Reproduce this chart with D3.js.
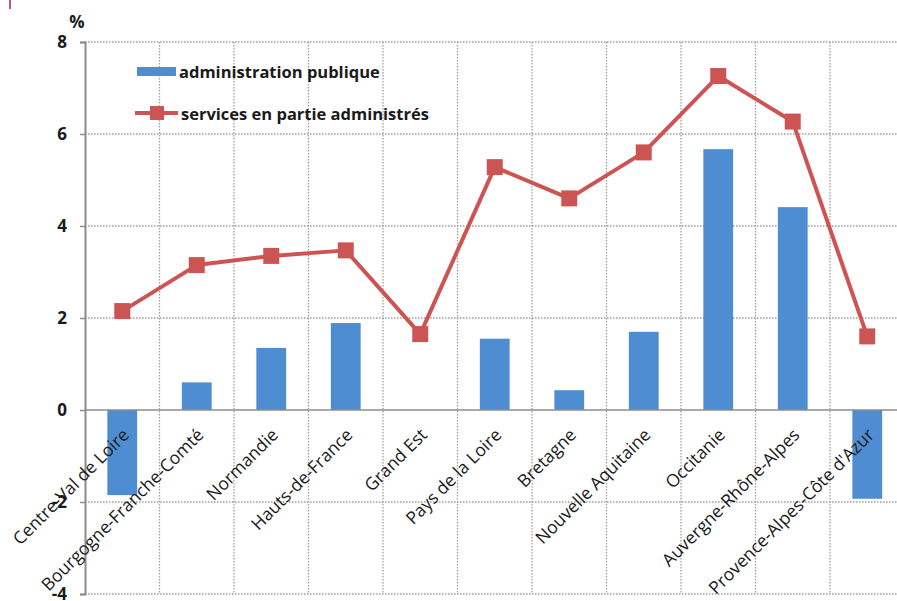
<!DOCTYPE html>
<html><head><meta charset="utf-8">
<script src="https://cdn.jsdelivr.net/npm/d3@7"></script>
<style>
html,body{margin:0;padding:0;background:#fff;overflow:hidden;}
text{font-family:"Open Sans",Lato,sans-serif;fill:#1a1a1a;}
</style></head>
<body><svg id="chart" width="897" height="601"></svg>
<script>
const categories = ["Centre-Val de Loire","Bourgogne-Franche-Comté","Normandie","Hauts-de-France","Grand Est","Pays de la Loire","Bretagne","Nouvelle Aquitaine","Occitanie","Auvergne-Rhône-Alpes","Provence-Alpes-Côte d'Azur"];
const adminPublique = [-1.85, 0.6, 1.35, 1.89, 0, 1.55, 0.43, 1.7, 5.67, 4.41, -1.93];
const servicesAdmin = [2.15, 3.15, 3.35, 3.47, 1.65, 5.28, 4.6, 5.6, 7.26, 6.27, 1.6];
const yTicks = [-4, -2, 0, 2, 4, 6, 8];
const seriesNames = ["administration publique", "services en partie administrés"];

const svg = d3.select("#chart");
const pLeft = 85, pRight = 904.5, pTop = 42, pBottom = 594;
const x = d3.scaleBand().domain(categories).range([pLeft, pRight]).paddingInner(0.6).paddingOuter(0.3);
const xb = d3.scaleBand().domain(categories).range([pLeft, pRight]).padding(0);
const y = d3.scaleLinear().domain([-4, 8]).range([pBottom, pTop]);
const blue = "#4f8dd2", red = "#cc5453";

svg.append("rect").attr("x", 9).attr("y", 0).attr("width", 2).attr("height", 9).attr("fill", "#c0509a");

svg.append("g").selectAll("line").data(yTicks.filter(d => d !== 0)).join("line")
  .attr("x1", pLeft).attr("x2", 897).attr("y1", d => y(d)).attr("y2", d => y(d))
  .attr("stroke", "#a89a9a").attr("stroke-width", 1.3).attr("stroke-dasharray", "1.5,1.5");
svg.append("g").selectAll("line").data(categories.slice(1)).join("line")
  .attr("x1", d => xb(d)).attr("x2", d => xb(d)).attr("y1", pTop).attr("y2", pBottom)
  .attr("stroke", "#a89a9a").attr("stroke-width", 1.3).attr("stroke-dasharray", "1.5,1.5");

svg.append("g").selectAll("rect").data(categories).join("rect")
  .attr("x", d => x(d)).attr("width", x.bandwidth())
  .attr("y", (d, i) => y(Math.max(0, adminPublique[i])))
  .attr("height", (d, i) => Math.abs(y(adminPublique[i]) - y(0)))
  .attr("fill", blue);

svg.append("line").attr("x1", pLeft).attr("x2", 897).attr("y1", y(0)).attr("y2", y(0))
  .attr("stroke", "#8c8c8c").attr("stroke-width", 1.5);

const yAxis = d3.axisLeft(y).tickValues(yTicks).tickSize(5).tickPadding(13).tickFormat(d => String(d));
const ga = svg.append("g").attr("transform", `translate(${pLeft},0)`).call(yAxis);
ga.select(".domain").attr("stroke", "#8c8c8c").attr("stroke-width", 2);
ga.selectAll(".tick line").attr("stroke", "#8c8c8c").attr("stroke-width", 1.5);
ga.selectAll(".tick text").attr("font-size", 17).attr("font-weight", "bold")
  .attr("font-family", "'Open Sans', sans-serif").attr("fill", "#1a1a1a");
svg.append("text").attr("x", 77).attr("y", 28).attr("text-anchor", "middle")
  .attr("font-size", 17).attr("font-weight", "bold").text("%");

const cx = d => xb(d) + xb.bandwidth() / 2;
const line = d3.line().x((d, i) => cx(categories[i])).y(d => y(d));
svg.append("path").datum(servicesAdmin).attr("d", line)
  .attr("fill", "none").attr("stroke", red).attr("stroke-width", 4).attr("stroke-linejoin", "round");
const ms = 16;
svg.append("g").selectAll("rect").data(servicesAdmin).join("rect")
  .attr("x", (d, i) => cx(categories[i]) - ms / 2).attr("y", d => y(d) - ms / 2)
  .attr("width", ms).attr("height", ms).attr("fill", red);

svg.append("g").selectAll("text").data(categories).join("text")
  .attr("transform", d => `translate(${cx(d) + 8},${y(0) + 26}) rotate(-45)`)
  .attr("text-anchor", "end").attr("font-size", 17.5).text(d => d);

const lg = svg.append("g");
lg.append("rect").attr("x", 137).attr("y", 67).attr("width", 39).attr("height", 9).attr("fill", blue);
lg.append("text").attr("x", 179).attr("y", 78).attr("font-size", 16.5).attr("font-weight", "bold").text(seriesNames[0]);
lg.append("line").attr("x1", 135).attr("x2", 178).attr("y1", 113).attr("y2", 113).attr("stroke", red).attr("stroke-width", 4);
lg.append("rect").attr("x", 150).attr("y", 106).attr("width", 14).attr("height", 14).attr("fill", red);
lg.append("text").attr("x", 181).attr("y", 120).attr("font-size", 16.5).attr("font-weight", "bold").text(seriesNames[1]);
</script></body></html>
